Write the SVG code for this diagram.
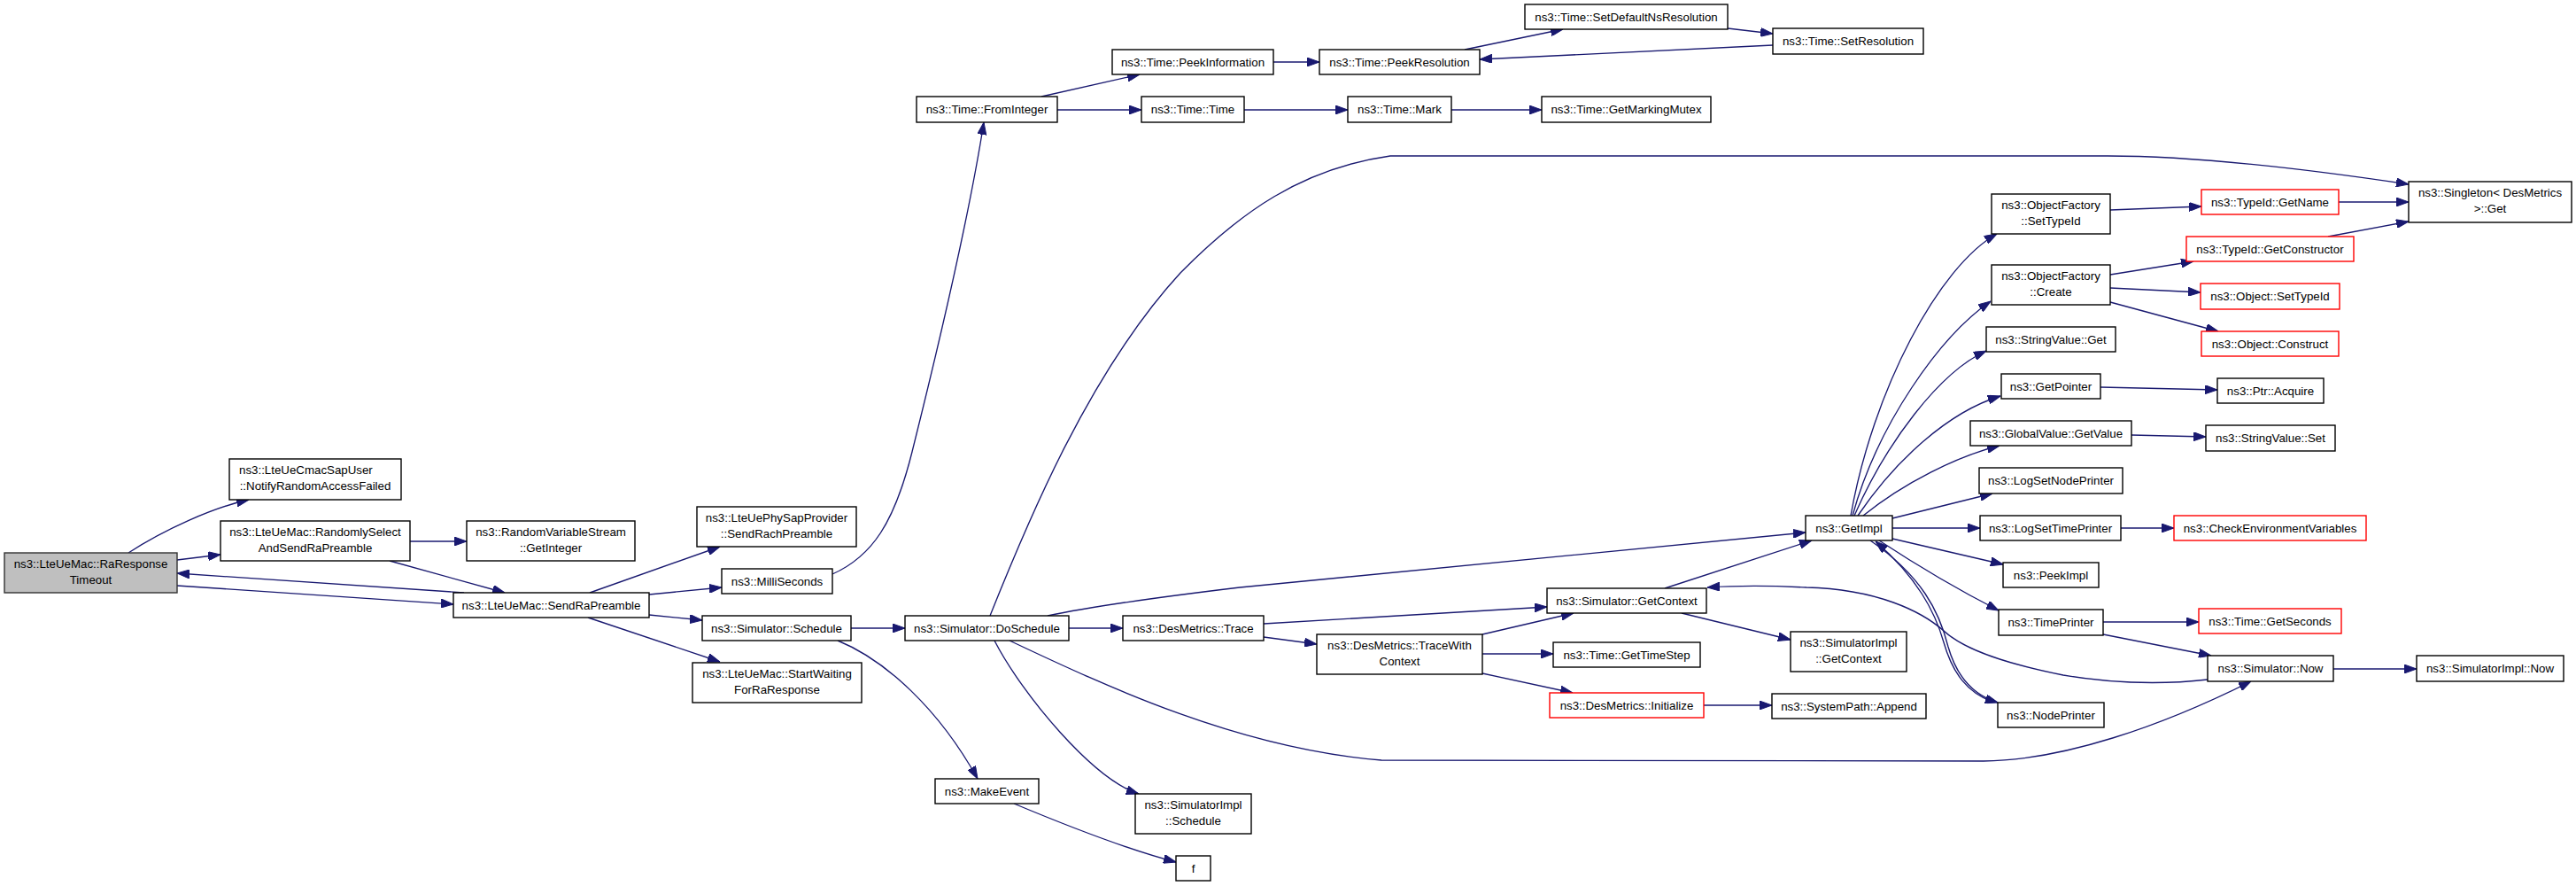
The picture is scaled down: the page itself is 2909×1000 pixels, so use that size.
<svg xmlns="http://www.w3.org/2000/svg" width="2909" height="1000" viewBox="0 0 2909 1000">
<style>
.node rect{fill:#ffffff;stroke:#000000;stroke-width:1.4}
.node.root rect{fill:#bfbfbf;stroke:#333333}
.node.red rect{stroke:#ff0000}
.node text{font-family:"Liberation Sans",Arial,Helvetica,sans-serif;font-size:13.3px;fill:#000000;text-anchor:middle}
.node text.l{text-anchor:start}
#edges path{fill:none;stroke:#191970;stroke-width:1.35;marker-end:url(#arr)}
</style>
<defs>
<marker id="arr" markerUnits="userSpaceOnUse" markerWidth="14" markerHeight="10" viewBox="0 0 14 10" refX="14" refY="5" orient="auto">
<path d="M0,0 L14,5 L0,10 z" fill="#191970" stroke="#191970" stroke-width="1"/>
</marker>
</defs>
<rect x="0" y="0" width="2909" height="1000" fill="#ffffff"/>
<g id="edges">
<path d="M145,624 C185,598 240,573 281,564"/>
<path d="M200,632 L249,626"/>
<path d="M200,661 L512,682"/>
<path d="M524,669 L200,647"/>
<path d="M463,611 L527,611"/>
<path d="M440,633 L570,669"/>
<path d="M666,669 L813,617"/>
<path d="M733,671 L815,663"/>
<path d="M733,694 L793,700"/>
<path d="M664,697 L813,747"/>
<path d="M940,648 C985,628 1010,590 1030,510 C1060,390 1095,240 1111,138"/>
<path d="M1176,109 L1287,84"/>
<path d="M1194,124 L1289,124"/>
<path d="M1438,70 L1490,70"/>
<path d="M1654,56 L1765,33"/>
<path d="M1951,32 L2002,38"/>
<path d="M2002,51 L1671,67"/>
<path d="M1405,124 L1522,124"/>
<path d="M1639,124 L1741,124"/>
<path d="M961,709 L1022,709"/>
<path d="M946,723 C1000,745 1060,800 1104,879"/>
<path d="M1145,907 C1200,930 1270,958 1328,973"/>
<path d="M1118,695 C1160,590 1230,420 1333,308 C1400,240 1470,190 1570,176 L2380,176 C2480,176 2600,190 2720,208"/>
<path d="M1183,695 C1230,685 1300,675 1400,663 L2039,601"/>
<path d="M1207,709 L1268,709"/>
<path d="M1123,723 C1155,785 1235,880 1286,896"/>
<path d="M1140,723 C1250,775 1400,845 1560,858 L2240,859 C2330,858 2440,820 2542,769"/>
<path d="M1427,704 L1747,685"/>
<path d="M1427,719 L1487,727"/>
<path d="M1674,716 L1777,692"/>
<path d="M1674,738 L1754,738"/>
<path d="M1674,760 L1776,782"/>
<path d="M1924,796 L2001,796"/>
<path d="M1880,664 L2046,610"/>
<path d="M1899,692 L2022,722"/>
<path d="M2090,582 C2115,440 2190,300 2255,264"/>
<path d="M2092,582 C2120,480 2190,380 2248,340"/>
<path d="M2094,582 C2130,500 2190,420 2243,396"/>
<path d="M2098,582 C2140,520 2200,465 2259,447"/>
<path d="M2104,582 C2150,545 2210,515 2258,503"/>
<path d="M2137,585 L2250,557"/>
<path d="M2137,596 L2236,596"/>
<path d="M2137,608 L2262,637"/>
<path d="M2122,610 C2160,635 2210,665 2257,689"/>
<path d="M2112,610 C2170,650 2190,690 2200,730 C2210,765 2230,785 2256,793"/>
<path d="M2250,792 C2222,782 2205,760 2195,725 C2185,690 2165,652 2118,611"/>
<path d="M2493,767 C2440,773 2390,772 2330,762 C2270,750 2220,735 2195,712 C2170,690 2120,665 2040,663 C2000,661 1960,661 1928,663"/>
<path d="M2375,702 L2483,702"/>
<path d="M2375,716 L2497,740"/>
<path d="M2635,755 L2729,755"/>
<path d="M2383,237 L2486,233"/>
<path d="M2641,228 L2720,228"/>
<path d="M2629,267 L2720,250"/>
<path d="M2383,310 L2477,295"/>
<path d="M2383,325 L2485,330"/>
<path d="M2383,341 L2505,374"/>
<path d="M2372,437 L2504,440"/>
<path d="M2407,491 L2491,493"/>
<path d="M2395,596 L2455,596"/>
</g>
<g id="n1" class="node root"><rect x="5" y="624" width="195" height="45"/><text x="102.5" y="641">ns3::LteUeMac::RaResponse</text><text x="102.5" y="659">Timeout</text></g>
<g id="n2" class="node"><rect x="259" y="518" width="194" height="46"/><text class="l" x="270" y="535">ns3::LteUeCmacSapUser</text><text x="356" y="553">::NotifyRandomAccessFailed</text></g>
<g id="n3" class="node"><rect x="249" y="588" width="214" height="45"/><text x="356" y="605">ns3::LteUeMac::RandomlySelect</text><text x="356" y="623">AndSendRaPreamble</text></g>
<g id="n4" class="node"><rect x="527" y="588" width="190" height="45"/><text x="622" y="605">ns3::RandomVariableStream</text><text x="622" y="623">::GetInteger</text></g>
<g id="n5" class="node"><rect x="512" y="669" width="221" height="28"/><text x="622.5" y="687.5">ns3::LteUeMac::SendRaPreamble</text></g>
<g id="n6" class="node"><rect x="787" y="572" width="180" height="45"/><text x="877" y="589">ns3::LteUePhySapProvider</text><text x="877" y="607">::SendRachPreamble</text></g>
<g id="n7" class="node"><rect x="815" y="642" width="125" height="28"/><text x="877.5" y="660.5">ns3::MilliSeconds</text></g>
<g id="n8" class="node"><rect x="793" y="695" width="168" height="28"/><text x="877" y="713.5">ns3::Simulator::Schedule</text></g>
<g id="n9" class="node"><rect x="782" y="748" width="191" height="45"/><text x="877.5" y="765">ns3::LteUeMac::StartWaiting</text><text x="877.5" y="783">ForRaResponse</text></g>
<g id="n10" class="node"><rect x="1022" y="695" width="185" height="28"/><text x="1114.5" y="713.5">ns3::Simulator::DoSchedule</text></g>
<g id="n11" class="node"><rect x="1268" y="695" width="159" height="28"/><text x="1347.5" y="713.5">ns3::DesMetrics::Trace</text></g>
<g id="n12" class="node"><rect x="1056" y="879" width="117" height="28"/><text x="1114.5" y="897.5">ns3::MakeEvent</text></g>
<g id="n13" class="node"><rect x="1282" y="896" width="131" height="45"/><text x="1347.5" y="913">ns3::SimulatorImpl</text><text x="1347.5" y="931">::Schedule</text></g>
<g id="n14" class="node"><rect x="1328" y="966" width="39" height="28"/><text x="1347.5" y="984.5">f</text></g>
<g id="n15" class="node"><rect x="1487" y="716" width="187" height="45"/><text x="1580.5" y="733">ns3::DesMetrics::TraceWith</text><text x="1580.5" y="751">Context</text></g>
<g id="n16" class="node"><rect x="1747" y="664" width="180" height="28"/><text x="1837" y="682.5">ns3::Simulator::GetContext</text></g>
<g id="n17" class="node"><rect x="1754" y="725" width="166" height="28"/><text x="1837" y="743.5">ns3::Time::GetTimeStep</text></g>
<g id="n18" class="node red"><rect x="1750" y="782" width="174" height="28"/><text x="1837" y="800.5">ns3::DesMetrics::Initialize</text></g>
<g id="n19" class="node"><rect x="2001" y="783" width="174" height="28"/><text x="2088" y="801.5">ns3::SystemPath::Append</text></g>
<g id="n20" class="node"><rect x="2022" y="713" width="131" height="45"/><text x="2087.5" y="730">ns3::SimulatorImpl</text><text x="2087.5" y="748">::GetContext</text></g>
<g id="n21" class="node"><rect x="2039" y="582" width="98" height="28"/><text x="2088" y="600.5">ns3::GetImpl</text></g>
<g id="n22" class="node"><rect x="1035" y="109" width="159" height="29"/><text x="1114.5" y="128">ns3::Time::FromInteger</text></g>
<g id="n23" class="node"><rect x="1256" y="56" width="182" height="28"/><text x="1347" y="74.5">ns3::Time::PeekInformation</text></g>
<g id="n24" class="node"><rect x="1490" y="56" width="181" height="28"/><text x="1580.5" y="74.5">ns3::Time::PeekResolution</text></g>
<g id="n25" class="node"><rect x="1722" y="5" width="229" height="28"/><text x="1836.5" y="23.5">ns3::Time::SetDefaultNsResolution</text></g>
<g id="n26" class="node"><rect x="2002" y="32" width="170" height="29"/><text x="2087" y="51">ns3::Time::SetResolution</text></g>
<g id="n27" class="node"><rect x="1289" y="109" width="116" height="29"/><text x="1347" y="128">ns3::Time::Time</text></g>
<g id="n28" class="node"><rect x="1522" y="109" width="117" height="29"/><text x="1580.5" y="128">ns3::Time::Mark</text></g>
<g id="n29" class="node"><rect x="1741" y="109" width="191" height="29"/><text x="1836.5" y="128">ns3::Time::GetMarkingMutex</text></g>
<g id="n30" class="node"><rect x="2720" y="205" width="184" height="46"/><text x="2812" y="222">ns3::Singleton&lt; DesMetrics</text><text x="2812" y="240">&gt;::Get</text></g>
<g id="n31" class="node red"><rect x="2486" y="214" width="155" height="28"/><text x="2563.5" y="232.5">ns3::TypeId::GetName</text></g>
<g id="n32" class="node"><rect x="2249" y="219" width="134" height="45"/><text x="2316" y="236">ns3::ObjectFactory</text><text x="2316" y="254">::SetTypeId</text></g>
<g id="n33" class="node red"><rect x="2469" y="267" width="189" height="28"/><text x="2563.5" y="285.5">ns3::TypeId::GetConstructor</text></g>
<g id="n34" class="node"><rect x="2249" y="299" width="134" height="45"/><text x="2316" y="316">ns3::ObjectFactory</text><text x="2316" y="334">::Create</text></g>
<g id="n35" class="node red"><rect x="2485" y="320" width="157" height="29"/><text x="2563.5" y="339">ns3::Object::SetTypeId</text></g>
<g id="n36" class="node red"><rect x="2486" y="374" width="155" height="28"/><text x="2563.5" y="392.5">ns3::Object::Construct</text></g>
<g id="n37" class="node"><rect x="2243" y="369" width="146" height="28"/><text x="2316" y="387.5">ns3::StringValue::Get</text></g>
<g id="n38" class="node"><rect x="2260" y="422" width="112" height="28"/><text x="2316" y="440.5">ns3::GetPointer</text></g>
<g id="n39" class="node"><rect x="2504" y="427" width="120" height="28"/><text x="2564" y="445.5">ns3::Ptr::Acquire</text></g>
<g id="n40" class="node"><rect x="2225" y="475" width="182" height="28"/><text x="2316" y="493.5">ns3::GlobalValue::GetValue</text></g>
<g id="n41" class="node"><rect x="2491" y="480" width="146" height="29"/><text x="2564" y="499">ns3::StringValue::Set</text></g>
<g id="n42" class="node"><rect x="2235" y="528" width="162" height="29"/><text x="2316" y="547">ns3::LogSetNodePrinter</text></g>
<g id="n43" class="node"><rect x="2236" y="582" width="159" height="28"/><text x="2315.5" y="600.5">ns3::LogSetTimePrinter</text></g>
<g id="n44" class="node red"><rect x="2455" y="582" width="217" height="28"/><text x="2563.5" y="600.5">ns3::CheckEnvironmentVariables</text></g>
<g id="n45" class="node"><rect x="2262" y="635" width="108" height="28"/><text x="2316" y="653.5">ns3::PeekImpl</text></g>
<g id="n46" class="node"><rect x="2257" y="688" width="118" height="29"/><text x="2316" y="707">ns3::TimePrinter</text></g>
<g id="n47" class="node red"><rect x="2483" y="687" width="161" height="28"/><text x="2563.5" y="705.5">ns3::Time::GetSeconds</text></g>
<g id="n48" class="node"><rect x="2493" y="740" width="142" height="29"/><text x="2564" y="759">ns3::Simulator::Now</text></g>
<g id="n49" class="node"><rect x="2729" y="740" width="166" height="29"/><text x="2812" y="759">ns3::SimulatorImpl::Now</text></g>
<g id="n50" class="node"><rect x="2256" y="793" width="120" height="28"/><text x="2316" y="811.5">ns3::NodePrinter</text></g>
</svg>
